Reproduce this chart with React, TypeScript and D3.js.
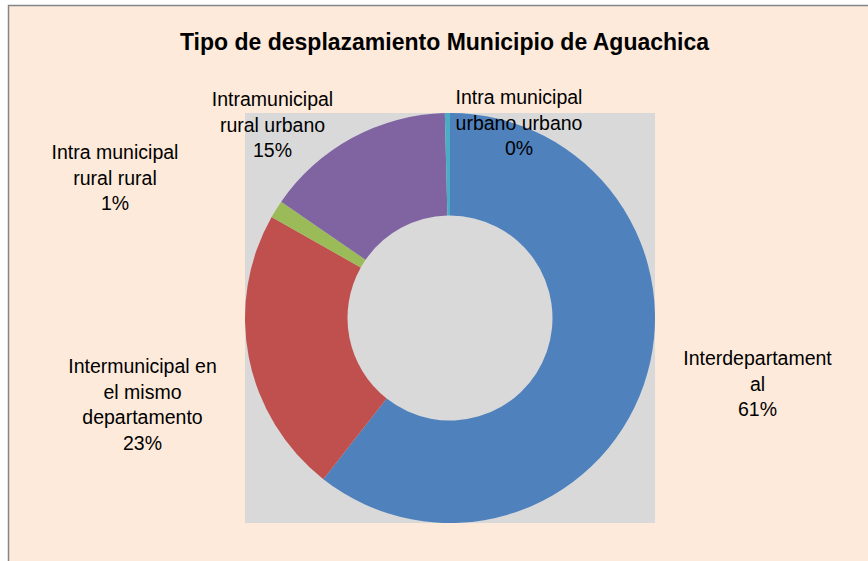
import React from "react";
import * as d3 from "d3";

const title = "Tipo de desplazamiento Municipio de Aguachica";
const categories = [
  "Interdepartamental",
  "Intermunicipal en el mismo departamento",
  "Intra municipal rural rural",
  "Intramunicipal rural urbano",
  "Intra municipal urbano urbano",
];
const values = [60.6, 22.6, 1.4, 15.0, 0.4];
const labelLines = [
  ["Interdepartament", "al"],
  ["Intermunicipal en", "el mismo", "departamento"],
  ["Intra municipal", "rural rural"],
  ["Intramunicipal", "rural urbano"],
  ["Intra municipal", "urbano urbano"],
];
const colors = ["#4F81BD", "#C0504D", "#9BBB59", "#8064A2", "#4BACC6"];

// layout (label anchors: centre x, first baseline y)
const labelAnchors = [
  [757.5, 365],
  [142.5, 373],
  [115, 159],
  [272.5, 106],
  [519, 104],
];

const W = 868;
const H = 561;
const cx = 450;
const cy = 318;
const R = 205;
const r = 102.5;
const lineH = 25.5;
const font = "'Liberation Sans', Arial, sans-serif";

export default function App() {
  const data = categories.map((c, i) => ({ c, v: values[i], i }));
  const total = d3.sum(values);
  const pie = d3
    .pie<any>()
    .sort(null)
    .value((d) => d.v)
    .startAngle(0)
    .endAngle(2 * Math.PI);
  const arcs = pie(data);
  const arc = d3.arc<any>().innerRadius(r).outerRadius(R);
  const fmt = d3.format(".0%");

  return (
    <div style={{ position: "fixed", left: 0, top: 0 }}>
      <svg width={W} height={H} style={{ display: "block" }}>
        <rect x={0} y={0} width={W} height={H} fill="#ffffff" />
        <rect
          x={8.5}
          y={5.5}
          width={W + 20}
          height={H + 20}
          fill="#FDEADA"
          stroke="#868686"
          strokeWidth={1.5}
        />
        <text
          x={444.5}
          y={50}
          textAnchor="middle"
          fontFamily={font}
          fontWeight="bold"
          fontSize={23}
          fill="#000"
        >
          {title}
        </text>
        <rect x={cx - R} y={cy - R} width={2 * R} height={2 * R} fill="#D9D9D9" />
        <g transform={`translate(${cx},${cy})`}>
          {arcs.map((a, i) => (
            <path key={i} d={arc(a) as string} fill={colors[i]} />
          ))}
        </g>
        {data.map((d, i) => {
          const lines = [...labelLines[i], fmt(Math.round((d.v / total) * 100) / 100)];
          const [lx, ly] = labelAnchors[i];
          return (
            <text
              key={i}
              x={lx}
              y={ly}
              textAnchor="middle"
              fontFamily={font}
              fontSize={19.5}
              fill="#000"
            >
              {lines.map((t, j) => (
                <tspan key={j} x={lx} y={ly + j * lineH}>
                  {t}
                </tspan>
              ))}
            </text>
          );
        })}
      </svg>
    </div>
  );
}
